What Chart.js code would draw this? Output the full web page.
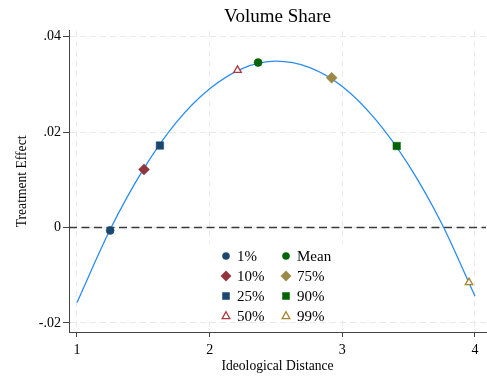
<!DOCTYPE html>
<html>
<head>
<meta charset="utf-8">
<script src="https://cdn.jsdelivr.net/npm/chart.js@4.4.1/dist/chart.umd.min.js"></script>
<style>
html,body{margin:0;padding:0;background:#fff;}
#wrap{width:487px;height:379px;}
</style>
</head>
<body>
<div id="wrap"><canvas id="c" width="487" height="379"></canvas></div>
<script>
// ---- data ----
const curveX = [1.00, 1.25, 1.50, 1.75, 2.00, 2.25, 2.50, 2.75, 3.00, 3.25, 3.50, 3.75, 4.00];
const curveY = [-0.0157, -0.0004, 0.0122, 0.0221, 0.0291, 0.0334, 0.0349, 0.0336, 0.0296, 0.0227, 0.0131, 0.0008, -0.0144];
const markerLabels = ['1%', '10%', '25%', '50%', 'Mean', '75%', '90%', '99%'];
const markerX = [1.25, 1.505, 1.625, 2.21, 2.365, 2.92, 3.41, 3.955];
const markerY = [-0.0006, 0.0122, 0.0172, 0.0330, 0.0346, 0.0314, 0.0171, -0.0115];
const xTicks = [1, 2, 3, 4];
const yTicks = [-0.02, 0, 0.02, 0.04];
const yTickLabels = ['-.02', '0', '.02', '.04'];

// ---- styles ----
const mStyle = [
  {shape:'circle',  color:'#1a476f', fill:true,  r:4},
  {shape:'rectRot', color:'#90353b', fill:true,  r:5.5},
  {shape:'rect',    color:'#1a476f', fill:true,  r:5.3},
  {shape:'triangle',color:'#b0393f', fill:false, r:4.3},
  {shape:'circle',  color:'#006400', fill:true,  r:4},
  {shape:'rectRot', color:'#9c8847', fill:true,  r:5.5},
  {shape:'rect',    color:'#006400', fill:true,  r:5.3},
  {shape:'triangle',color:'#a8842c', fill:false, r:4.3}
];
const FONT = "'Liberation Serif', 'Times New Roman', serif";

const datasets = markerLabels.map((lab, i) => ({
  type: 'scatter',
  label: lab,
  data: [{x: markerX[i], y: markerY[i]}],
  pointStyle: mStyle[i].shape,
  pointRadius: mStyle[i].r,
  pointHoverRadius: mStyle[i].r,
  pointBackgroundColor: mStyle[i].fill ? mStyle[i].color : '#ffffff',
  pointBorderColor: mStyle[i].color,
  pointBorderWidth: mStyle[i].fill ? 0.5 : 1.3
}));
datasets.push({
  type: 'line',
  label: 'fit',
  data: curveX.map((x, i) => ({x: x, y: curveY[i]})),
  borderColor: '#2a8cf2',
  borderWidth: 1.3,
  pointRadius: 0,
  fill: false,
  cubicInterpolationMode: 'monotone'
});

function drawMarker(ctx, st, x, y) {
  ctx.save();
  ctx.beginPath();
  const r = st.r;
  if (st.shape === 'circle') {
    ctx.arc(x, y, r, 0, Math.PI * 2);
  } else if (st.shape === 'rectRot') {
    ctx.moveTo(x, y - r); ctx.lineTo(x + r, y); ctx.lineTo(x, y + r); ctx.lineTo(x - r, y); ctx.closePath();
  } else if (st.shape === 'rect') {
    const s = r * Math.SQRT1_2;
    ctx.rect(x - s, y - s, 2 * s, 2 * s);
  } else {
    ctx.moveTo(x, y - r); ctx.lineTo(x + r * 0.9, y + r * 0.6); ctx.lineTo(x - r * 0.9, y + r * 0.6); ctx.closePath();
  }
  ctx.fillStyle = st.fill ? st.color : '#ffffff';
  ctx.fill();
  ctx.strokeStyle = st.color;
  ctx.lineWidth = st.fill ? 0.5 : 1.3;
  ctx.stroke();
  ctx.restore();
}

const extras = {
  id: 'extras',
  beforeDatasetsDraw(chart) {
    const {ctx} = chart;
    const xs = chart.scales.x, ys = chart.scales.y;
    const area = chart.chartArea;
    // legend background
    ctx.save();
    ctx.fillStyle = '#ffffff';
    ctx.fillRect(xs.getPixelForValue(1.98), ys.getPixelForValue(-0.0035), 165, 76);
    ctx.restore();
    // zero reference line
    const y0 = ys.getPixelForValue(0);
    ctx.save();
    ctx.strokeStyle = '#3a3a3a';
    ctx.lineWidth = 1.5;
    ctx.setLineDash([8, 4.5]);
    ctx.beginPath();
    ctx.moveTo(area.left, y0);
    ctx.lineTo(area.right, y0);
    ctx.stroke();
    ctx.restore();
    // legend (two columns)
    const colX = [226, 286];
    const rowY = [256, 276, 296, 316];
    ctx.save();
    ctx.font = '15px ' + FONT;
    ctx.fillStyle = '#000';
    ctx.textBaseline = 'middle';
    ctx.textAlign = 'left';
    markerLabels.forEach((lab, i) => {
      const c = i < 4 ? 0 : 1, r = i % 4;
      const st = Object.assign({}, mStyle[i]);
      if (st.shape === 'circle') st.r = 3.6;
      if (st.shape === 'rect') st.r = 5;
      if (st.shape === 'rectRot') st.r = 5.2;
      drawMarker(ctx, st, colX[c], rowY[r]);
      ctx.fillText(lab, colX[c] + 11, rowY[r] + 1);
    });
    ctx.restore();
  }
};

new Chart(document.getElementById('c'), {
  data: {datasets: datasets},
  options: {
    responsive: false,
    animation: false,
    devicePixelRatio: 1,
    layout: {autoPadding: false, padding: {left: 0, right: 1, top: 0, bottom: 0}},
    plugins: {
      legend: {display: false},
      tooltip: {enabled: false},
      title: {
        display: true,
        fullSize: false,
        text: 'Volume Share',
        color: '#000',
        font: {family: FONT, size: 19, weight: 'normal'},
        padding: {top: 6, bottom: 2}
      }
    },
    scales: {
      x: {
        type: 'linear',
        min: 0.9397,
        max: 4.083,
        afterBuildTicks: (s) => { s.ticks = xTicks.map(v => ({value: v})); },
        afterFit: (s) => { s.height = 47; s.paddingLeft = 0; s.paddingRight = 0; },
        ticks: {
          color: '#000',
          font: {family: FONT, size: 14},
          padding: 5,
          maxRotation: 0,
          callback: (v) => String(v)
        },
        grid: {color: '#e9e9e9', lineWidth: 1, tickColor: '#444', tickLength: 5, tickWidth: 1},
        border: {display: true, color: '#444', width: 1, dash: [6, 4]},
        title: {
          display: true,
          text: 'Ideological Distance',
          color: '#000',
          font: {family: FONT, size: 13.6},
          padding: {top: 0, bottom: 4}
        }
      },
      y: {
        type: 'linear',
        min: -0.02189,
        max: 0.04126,
        afterBuildTicks: (s) => { s.ticks = yTicks.map(v => ({value: v})); },
        afterFit: (s) => { s.width = 69; s.paddingTop = 0; s.paddingBottom = 0; },
        ticks: {
          color: '#000',
          font: {family: FONT, size: 14},
          padding: 2,
          callback: (v) => { const i = yTicks.findIndex(t => Math.abs(t - v) < 1e-9); return i >= 0 ? yTickLabels[i] : ''; }
        },
        grid: {color: '#e9e9e9', lineWidth: 1, tickColor: '#444', tickLength: 6, tickWidth: 1},
        border: {display: true, color: '#444', width: 1, dash: [6, 4]},
        title: {
          display: true,
          text: 'Treatment Effect',
          color: '#000',
          font: {family: FONT, size: 13.6},
          padding: {top: 14, bottom: 0}
        }
      }
    }
  },
  plugins: [extras]
});
</script>
</body>
</html>
